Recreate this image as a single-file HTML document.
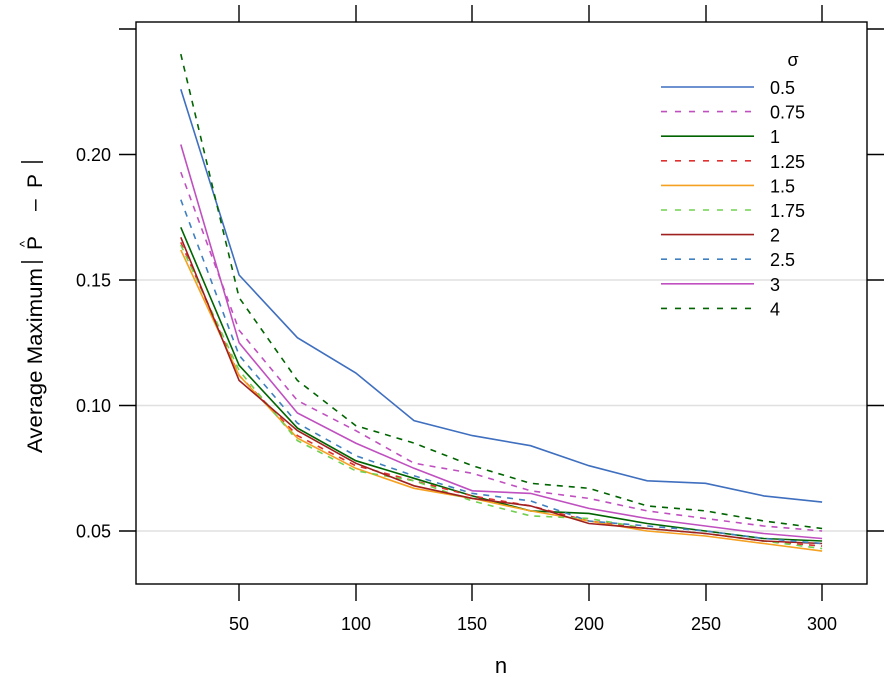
<!DOCTYPE html>
<html><head><meta charset="utf-8"><style>
body{margin:0;background:#fff;}
svg{display:block;font-family:"Liberation Sans",sans-serif;}
</style></head><body>
<svg id="s" width="889" height="677" xmlns="http://www.w3.org/2000/svg">
<g stroke="#e0e0e0" stroke-width="1.5">
<line x1="136" x2="867" y1="280" y2="280"/><line x1="136" x2="867" y1="405.5" y2="405.5"/><line x1="136" x2="867" y1="531" y2="531"/>
</g>
<g id="lines" fill="none" stroke-width="1.6"></g>
<rect x="136" y="22" width="731" height="562" fill="none" stroke="#000" stroke-width="1.4"/>
<g id="ticks" stroke="#000" stroke-width="1.4"></g>
<g font-size="18" text-anchor="middle">
<text x="239" y="630">50</text><text x="356" y="630">100</text><text x="472" y="630">150</text><text x="589" y="630">200</text><text x="706" y="630">250</text><text x="822" y="630">300</text>
<text x="501" y="673" font-size="22">n</text>
</g>
<g font-size="18" text-anchor="end">
<text x="111" y="161">0.20</text><text x="111" y="286.5">0.15</text><text x="111" y="412">0.10</text><text x="111" y="537.5">0.05</text>
</g>
<g transform="translate(42,0) rotate(-90)" font-size="21">
<text x="-453" y="0" textLength="185" lengthAdjust="spacingAndGlyphs">Average Maximum</text>
<text x="-250" y="0">P</text>
<text x="-211" y="-1">–</text>
<text x="-188" y="0">P</text>
<text x="-247" y="-13" font-size="13">^</text>
</g>
<line x1="21" x2="43" y1="262" y2="262" stroke="#000" stroke-width="1.5"/>
<line x1="21" x2="43" y1="162" y2="162" stroke="#000" stroke-width="1.5"/>
<g id="leg" font-size="18"><text x="793" y="66" text-anchor="middle">σ</text></g>
<script>
var NS="http://www.w3.org/2000/svg";
var tk=document.getElementById("ticks");
function L(a,b,c,d){var l=document.createElementNS(NS,"line");l.setAttribute("x1",a);l.setAttribute("y1",b);l.setAttribute("x2",c);l.setAttribute("y2",d);tk.appendChild(l);}
[239,356,472,589,706,822].forEach(function(x){L(x,584,x,601);L(x,22,x,5);});
[29,154.5,280,405.5,531].forEach(function(y){L(119,y,136,y);L(867,y,884,y);});
var ser=[
["0.5","#3f6fbf",0,[0.226,0.152,0.127,0.113,0.094,0.088,0.084,0.076,0.070,0.069,0.064,0.0615]],
["0.75","#c050c0",1,[0.193,0.130,0.102,0.090,0.077,0.073,0.066,0.063,0.058,0.055,0.052,0.050]],
["1","#006400",0,[0.171,0.116,0.091,0.078,0.071,0.064,0.058,0.057,0.053,0.050,0.047,0.046]],
["1.25","#e03030",1,[0.165,0.112,0.088,0.076,0.070,0.064,0.060,0.054,0.051,0.049,0.046,0.044]],
["1.5","#f5a020",0,[0.162,0.112,0.087,0.075,0.067,0.063,0.058,0.054,0.050,0.048,0.045,0.042]],
["1.75","#70d050",1,[0.164,0.114,0.086,0.074,0.070,0.062,0.056,0.055,0.051,0.049,0.046,0.043]],
["2","#a02020",0,[0.167,0.110,0.090,0.077,0.068,0.063,0.060,0.053,0.051,0.049,0.046,0.045]],
["2.5","#4080c0",1,[0.182,0.120,0.093,0.080,0.072,0.065,0.062,0.054,0.052,0.050,0.047,0.045]],
["3","#c050c0",0,[0.204,0.125,0.097,0.085,0.075,0.066,0.065,0.059,0.055,0.052,0.049,0.047]],
["4","#006400",1,[0.240,0.143,0.110,0.092,0.085,0.076,0.069,0.067,0.060,0.058,0.054,0.051]]];
var g=document.getElementById("lines"),lg=document.getElementById("leg");
ser.forEach(function(s,i){
 var p=s[3].map(function(v,j){return (180.8+j*25*2.332).toFixed(1)+","+(531-(v-0.05)*2510).toFixed(1)}).join(" ");
 var e=document.createElementNS(NS,"polyline");e.setAttribute("points",p);e.setAttribute("stroke",s[1]);
 if(s[2])e.setAttribute("stroke-dasharray","6,6");g.appendChild(e);
 var y=87+i*24.6;
 var l=document.createElementNS(NS,"line");l.setAttribute("x1",661);l.setAttribute("x2",754);l.setAttribute("y1",y);l.setAttribute("y2",y);
 l.setAttribute("stroke",s[1]);l.setAttribute("stroke-width",1.6);if(s[2])l.setAttribute("stroke-dasharray","6,8");lg.appendChild(l);
 var t=document.createElementNS(NS,"text");t.setAttribute("x",770);t.setAttribute("y",y+7);t.textContent=s[0];lg.appendChild(t);
});
</script>
</svg>
</body></html>
